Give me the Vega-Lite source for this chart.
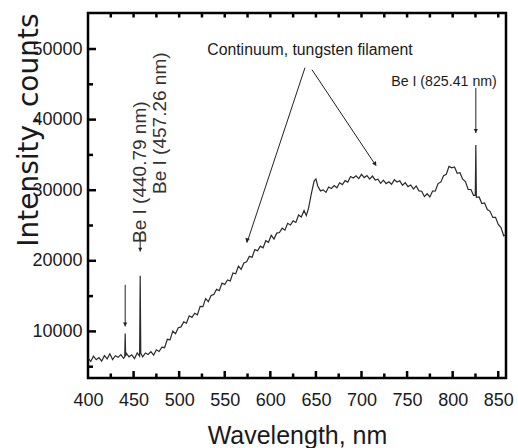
{
  "$schema": "https://vega.github.io/schema/vega-lite/v6.json",
  "width": 418,
  "height": 365,
  "autosize": {"type": "none"},
  "padding": {"left": 88, "top": 13, "right": 12, "bottom": 70},
  "background": "white",
  "config": {
    "view": {"stroke": "black", "strokeWidth": 2.5},
    "axis": {"domain": false, "grid": false, "ticks": false, "labelColor": "#1a1a1a", "titleColor": "#1a1a1a", "titleFontWeight": "normal", "labelFont": "Liberation Sans", "titleFont": "Liberation Sans", "labelFlush": false, "labelOverlap": false}
  },
  "datasets": {
    "spectrum": [
      {"wl": 400, "counts": 6250}, {"wl": 403, "counts": 5745}, {"wl": 406, "counts": 6490}, {"wl": 409, "counts": 5985},
      {"wl": 412, "counts": 6280}, {"wl": 415, "counts": 5775}, {"wl": 418, "counts": 6570}, {"wl": 421, "counts": 6110},
      {"wl": 424, "counts": 6840}, {"wl": 427, "counts": 6020}, {"wl": 430, "counts": 6550}, {"wl": 433, "counts": 6330},
      {"wl": 436, "counts": 6710}, {"wl": 439, "counts": 6190}, {"wl": 440.3, "counts": 6400}, {"wl": 440.79, "counts": 9700}, {"wl": 441.3, "counts": 6500},
      {"wl": 442, "counts": 6920}, {"wl": 445, "counts": 6400}, {"wl": 448, "counts": 6680}, {"wl": 451, "counts": 6160},
      {"wl": 454, "counts": 6945}, {"wl": 456.6, "counts": 6500}, {"wl": 457.26, "counts": 17900}, {"wl": 457.9, "counts": 6900},
      {"wl": 460, "counts": 6400}, {"wl": 463, "counts": 6945}, {"wl": 466, "counts": 6740}, {"wl": 469, "counts": 7135},
      {"wl": 472, "counts": 6640}, {"wl": 475, "counts": 7400}, {"wl": 478, "counts": 7150}, {"wl": 481, "counts": 7760},
      {"wl": 484, "counts": 7690}, {"wl": 487, "counts": 8880}, {"wl": 490, "counts": 8800}, {"wl": 493, "counts": 10040},
      {"wl": 496, "counts": 9670}, {"wl": 499, "counts": 10530}, {"wl": 502, "counts": 10640}, {"wl": 505, "counts": 11350},
      {"wl": 508, "counts": 11160}, {"wl": 511, "counts": 12210}, {"wl": 514, "counts": 11990}, {"wl": 517, "counts": 12570},
      {"wl": 520, "counts": 12350}, {"wl": 523, "counts": 13550}, {"wl": 526, "counts": 13500}, {"wl": 529, "counts": 14650},
      {"wl": 532, "counts": 14210}, {"wl": 535, "counts": 15100}, {"wl": 538, "counts": 15240}, {"wl": 541, "counts": 15970},
      {"wl": 544, "counts": 15780}, {"wl": 547, "counts": 16840}, {"wl": 550, "counts": 16650}, {"wl": 553, "counts": 17290},
      {"wl": 556, "counts": 17130}, {"wl": 559, "counts": 18270}, {"wl": 562, "counts": 18160}, {"wl": 565, "counts": 19250},
      {"wl": 568, "counts": 18790}, {"wl": 571, "counts": 19690}, {"wl": 574, "counts": 19860}, {"wl": 577, "counts": 20630},
      {"wl": 580, "counts": 20500}, {"wl": 583, "counts": 21590}, {"wl": 586, "counts": 21430}, {"wl": 589, "counts": 22070},
      {"wl": 592, "counts": 21830}, {"wl": 595, "counts": 22850}, {"wl": 598, "counts": 22620}, {"wl": 601, "counts": 23610},
      {"wl": 604, "counts": 23090}, {"wl": 607, "counts": 23920}, {"wl": 610, "counts": 24000}, {"wl": 613, "counts": 24620},
      {"wl": 616, "counts": 24340}, {"wl": 619, "counts": 25310}, {"wl": 622, "counts": 25070}, {"wl": 625, "counts": 25650},
      {"wl": 628, "counts": 25430}, {"wl": 631, "counts": 26480}, {"wl": 634, "counts": 26200}, {"wl": 637, "counts": 27120},
      {"wl": 639.5, "counts": 26400}, {"wl": 642, "counts": 27500}, {"wl": 645, "counts": 29500}, {"wl": 648, "counts": 31300},
      {"wl": 650, "counts": 31600}, {"wl": 652, "counts": 30600}, {"wl": 655, "counts": 29900}, {"wl": 658, "counts": 30050},
      {"wl": 661, "counts": 29700}, {"wl": 664, "counts": 30450}, {"wl": 667, "counts": 30250}, {"wl": 670, "counts": 30650},
      {"wl": 673, "counts": 30350}, {"wl": 676, "counts": 31050}, {"wl": 679, "counts": 30800}, {"wl": 682, "counts": 31360},
      {"wl": 685, "counts": 31150}, {"wl": 688, "counts": 31940}, {"wl": 691, "counts": 31720}, {"wl": 694, "counts": 32030},
      {"wl": 697, "counts": 31640}, {"wl": 700, "counts": 32250}, {"wl": 703, "counts": 31790}, {"wl": 706, "counts": 32080},
      {"wl": 709, "counts": 31570}, {"wl": 712, "counts": 32000}, {"wl": 715, "counts": 31450}, {"wl": 718, "counts": 31550},
      {"wl": 721, "counts": 30970}, {"wl": 724, "counts": 31430}, {"wl": 727, "counts": 30940}, {"wl": 730, "counts": 31200},
      {"wl": 733, "counts": 30840}, {"wl": 736, "counts": 31480}, {"wl": 739, "counts": 31170}, {"wl": 742, "counts": 31330},
      {"wl": 745, "counts": 30700}, {"wl": 748, "counts": 31070}, {"wl": 751, "counts": 30510}, {"wl": 754, "counts": 30740},
      {"wl": 757, "counts": 30170}, {"wl": 760, "counts": 30600}, {"wl": 763, "counts": 29900}, {"wl": 766, "counts": 29850},
      {"wl": 769, "counts": 29100}, {"wl": 772, "counts": 29500}, {"wl": 775, "counts": 29050}, {"wl": 778, "counts": 29880},
      {"wl": 781, "counts": 29910}, {"wl": 784, "counts": 30940}, {"wl": 787, "counts": 31140}, {"wl": 790, "counts": 32050},
      {"wl": 793, "counts": 32260}, {"wl": 796, "counts": 33380}, {"wl": 799, "counts": 33180}, {"wl": 802, "counts": 33300},
      {"wl": 805, "counts": 32400}, {"wl": 808, "counts": 32470}, {"wl": 811, "counts": 31570}, {"wl": 814, "counts": 31220},
      {"wl": 817, "counts": 30120}, {"wl": 820, "counts": 30100}, {"wl": 823, "counts": 29250}, {"wl": 824.8, "counts": 29300},
      {"wl": 825.41, "counts": 36400}, {"wl": 826.0, "counts": 29000}, {"wl": 829, "counts": 29040}, {"wl": 832, "counts": 28110},
      {"wl": 835, "counts": 28200}, {"wl": 838, "counts": 27260}, {"wl": 841, "counts": 27010}, {"wl": 844, "counts": 26140},
      {"wl": 847, "counts": 26150}, {"wl": 850, "counts": 25150}, {"wl": 853, "counts": 24700}, {"wl": 856, "counts": 23550},
      {"wl": 858, "counts": 23700}
    ],
    "arrows": [
      {"x": 638.0, "y": 47350, "x2": 574.4, "y2": 22560},
      {"x": 645.7, "y": 47070, "x2": 715.9, "y2": 33470},
      {"x": 440.79, "y": 16600, "x2": 440.79, "y2": 10700},
      {"x": 457.26, "y": 24000, "x2": 457.26, "y2": 21300},
      {"x": 825.41, "y": 44500, "x2": 825.41, "y2": 38100}
    ],
    "frameTicks": [
      {"x": 450, "y": 3400, "x2": 450, "y2": 4390}, {"x": 500, "y": 3400, "x2": 500, "y2": 4390},
      {"x": 550, "y": 3400, "x2": 550, "y2": 4390}, {"x": 600, "y": 3400, "x2": 600, "y2": 4390},
      {"x": 650, "y": 3400, "x2": 650, "y2": 4390}, {"x": 700, "y": 3400, "x2": 700, "y2": 4390},
      {"x": 750, "y": 3400, "x2": 750, "y2": 4390}, {"x": 800, "y": 3400, "x2": 800, "y2": 4390},
      {"x": 850, "y": 3400, "x2": 850, "y2": 4390},
      {"x": 425, "y": 3400, "x2": 425, "y2": 4040}, {"x": 475, "y": 3400, "x2": 475, "y2": 4040},
      {"x": 525, "y": 3400, "x2": 525, "y2": 4040}, {"x": 575, "y": 3400, "x2": 575, "y2": 4040},
      {"x": 625, "y": 3400, "x2": 625, "y2": 4040}, {"x": 675, "y": 3400, "x2": 675, "y2": 4040},
      {"x": 725, "y": 3400, "x2": 725, "y2": 4040}, {"x": 775, "y": 3400, "x2": 775, "y2": 4040},
      {"x": 825, "y": 3400, "x2": 825, "y2": 4040},
      {"x": 425, "y": 55100, "x2": 425, "y2": 54460}, {"x": 450, "y": 55100, "x2": 450, "y2": 54460},
      {"x": 475, "y": 55100, "x2": 475, "y2": 54460}, {"x": 500, "y": 55100, "x2": 500, "y2": 54460},
      {"x": 525, "y": 55100, "x2": 525, "y2": 54460}, {"x": 550, "y": 55100, "x2": 550, "y2": 54460},
      {"x": 575, "y": 55100, "x2": 575, "y2": 54460}, {"x": 600, "y": 55100, "x2": 600, "y2": 54460},
      {"x": 625, "y": 55100, "x2": 625, "y2": 54460}, {"x": 650, "y": 55100, "x2": 650, "y2": 54460},
      {"x": 675, "y": 55100, "x2": 675, "y2": 54460}, {"x": 700, "y": 55100, "x2": 700, "y2": 54460},
      {"x": 725, "y": 55100, "x2": 725, "y2": 54460}, {"x": 750, "y": 55100, "x2": 750, "y2": 54460},
      {"x": 775, "y": 55100, "x2": 775, "y2": 54460}, {"x": 800, "y": 55100, "x2": 800, "y2": 54460},
      {"x": 825, "y": 55100, "x2": 825, "y2": 54460}, {"x": 850, "y": 55100, "x2": 850, "y2": 54460},
      {"x": 400, "y": 10000, "x2": 408.8, "y2": 10000}, {"x": 400, "y": 20000, "x2": 408.8, "y2": 20000},
      {"x": 400, "y": 30000, "x2": 408.8, "y2": 30000}, {"x": 400, "y": 40000, "x2": 408.8, "y2": 40000},
      {"x": 400, "y": 50000, "x2": 408.8, "y2": 50000},
      {"x": 400, "y": 5000, "x2": 405.5, "y2": 5000}, {"x": 400, "y": 15000, "x2": 405.5, "y2": 15000},
      {"x": 400, "y": 25000, "x2": 405.5, "y2": 25000}, {"x": 400, "y": 35000, "x2": 405.5, "y2": 35000},
      {"x": 400, "y": 45000, "x2": 405.5, "y2": 45000}
    ],
    "flatLabels": [
      {"x": 643.5, "y": 49900, "text": "Continuum, tungsten filament", "size": "big"},
      {"x": 790.5, "y": 45370, "text": "Be I (825.41 nm)", "size": "small"}
    ],
    "rotLabels": [
      {"x": 457.0, "y": 32550, "text": "Be I (440.79 nm)"},
      {"x": 479.0, "y": 39490, "text": "Be I (457.26 nm)"}
    ],
    "downHeads": [
      {"x": 440.79, "y": 11000},
      {"x": 457.26, "y": 21600},
      {"x": 825.41, "y": 38400}
    ],
    "leftHead": [{"x": 574.4, "y": 22900}],
    "rightHead": [{"x": 715.0, "y": 33700}]
  },
  "layer": [
    {
      "data": {"name": "spectrum"},
      "mark": {"type": "line", "stroke": "#2a2a2a", "strokeWidth": 1.2, "clip": true},
      "encoding": {
        "x": {"field": "wl", "type": "quantitative", "scale": {"domain": [400, 858.5], "nice": false, "zero": false},
          "axis": {"orient": "bottom", "values": [400, 450, 500, 550, 600, 650, 700, 750, 800, 850], "labelFontSize": 18, "labelPadding": 13, "title": "Wavelength, nm", "titleFontSize": 25, "titlePadding": 14}},
        "y": {"field": "counts", "type": "quantitative", "scale": {"domain": [3400, 55100], "nice": false, "zero": false},
          "axis": {"orient": "left", "values": [10000, 20000, 30000, 40000, 50000], "format": "d", "labelFontSize": 18, "labelPadding": 6, "title": "Intensity, counts", "titleFont": "DejaVu Sans", "titleFontSize": 28, "titleAnchor": "end", "titlePadding": -12}}
      }
    },
    {
      "data": {"name": "arrows"},
      "mark": {"type": "rule", "stroke": "#222222", "strokeWidth": 1},
      "encoding": {
        "x": {"field": "x", "type": "quantitative"},
        "y": {"field": "y", "type": "quantitative"},
        "x2": {"field": "x2"},
        "y2": {"field": "y2"}
      }
    },
    {
      "data": {"name": "flatLabels"},
      "mark": {"type": "text", "font": "Liberation Sans", "color": "#1a1a1a", "align": "center", "baseline": "middle"},
      "encoding": {
        "x": {"field": "x", "type": "quantitative"},
        "y": {"field": "y", "type": "quantitative"},
        "text": {"field": "text"},
        "size": {"field": "size", "type": "nominal", "scale": {"domain": ["big", "small"], "range": [15.8, 14.2]}, "legend": null}
      }
    },
    {
      "data": {"name": "rotLabels"},
      "mark": {"type": "text", "font": "Liberation Sans", "fontSize": 19, "color": "#333333", "angle": 270, "align": "center", "baseline": "middle"},
      "encoding": {
        "x": {"field": "x", "type": "quantitative"},
        "y": {"field": "y", "type": "quantitative"},
        "text": {"field": "text"}
      }
    },
    {
      "data": {"name": "downHeads"},
      "mark": {"type": "point", "shape": "triangle-down", "filled": true, "color": "#222222", "size": 18, "opacity": 1},
      "encoding": {
        "x": {"field": "x", "type": "quantitative"},
        "y": {"field": "y", "type": "quantitative"}
      }
    },
    {
      "data": {"name": "leftHead"},
      "mark": {"type": "point", "shape": "triangle-up", "filled": true, "color": "#222222", "size": 22, "angle": 198, "opacity": 1},
      "encoding": {
        "x": {"field": "x", "type": "quantitative"},
        "y": {"field": "y", "type": "quantitative"}
      }
    },
    {
      "data": {"name": "rightHead"},
      "mark": {"type": "point", "shape": "triangle-up", "filled": true, "color": "#222222", "size": 22, "angle": 146, "opacity": 1},
      "encoding": {
        "x": {"field": "x", "type": "quantitative"},
        "y": {"field": "y", "type": "quantitative"}
      }
    },
    {
      "data": {"name": "frameTicks"},
      "mark": {"type": "rule", "stroke": "#000000", "strokeWidth": 2.5, "strokeCap": "butt"},
      "encoding": {
        "x": {"field": "x", "type": "quantitative"},
        "y": {"field": "y", "type": "quantitative"},
        "x2": {"field": "x2"},
        "y2": {"field": "y2"}
      }
    }
  ]
}
